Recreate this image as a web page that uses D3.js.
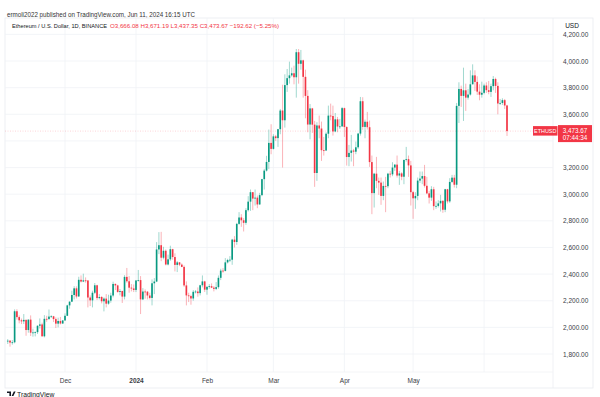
<!DOCTYPE html>
<html><head><meta charset="utf-8">
<script src="https://cdn.jsdelivr.net/npm/d3@7"></script>
<style>
html,body{margin:0;padding:0;background:#fff;}
svg{display:block;font-family:"Liberation Sans","DejaVu Sans",sans-serif;}
</style></head>
<body>
<svg id="c" width="600" height="397"></svg>
<script>
// ---- Data: daily OHLC (ETH/USD, Binance), one small array per month ----
const nov2023Start = "2023-11-06";
const nov2023 = [
 [1894,1912,1875,1900],[1900,1905,1855,1886],[1886,1905,1870,1888],[1888,2135,1880,2121],
 [2121,2136,2058,2077],[2077,2090,2030,2053],[2053,2066,2025,2045],[2045,2100,2025,2056],
 [2056,2060,1937,1980],[1980,2060,1960,2058],[2058,2090,1935,1960],[1960,1990,1930,1962],
 [1962,1970,1932,1964],[1964,2015,1950,2012],[2012,2067,1991,2022],[2022,2035,1930,1933],
 [1933,2092,1925,2064],[2064,2087,2042,2063],[2063,2134,2055,2081],[2081,2091,2072,2083],
 [2083,2086,2040,2062],[2062,2075,1995,2028],[2028,2073,2000,2048],[2048,2078,2022,2029],
 [2029,2055,2025,2052]
];
const dec2023Start = "2023-12-01";
const dec2023 = [
 [2052,2105,2049,2087],[2087,2170,2085,2165],[2165,2195,2140,2193],[2193,2275,2190,2243],
 [2243,2309,2210,2293],[2293,2308,2217,2232],[2232,2380,2230,2357],[2357,2390,2337,2344],
 [2344,2403,2340,2353],[2353,2375,2335,2352],[2352,2355,2150,2224],[2224,2240,2160,2203],
 [2203,2275,2150,2260],[2260,2333,2250,2316],[2316,2320,2205,2220],[2220,2250,2210,2228],
 [2228,2235,2180,2196],[2196,2225,2120,2216],[2216,2250,2150,2178],[2178,2245,2170,2201],
 [2201,2260,2185,2239],[2239,2343,2225,2326],[2326,2330,2280,2315],[2315,2320,2260,2266],
 [2266,2288,2240,2273],[2273,2275,2183,2231],[2231,2392,2210,2379],[2379,2446,2335,2346],
 [2346,2385,2260,2298],[2298,2325,2270,2292],[2292,2322,2265,2281]
];
const jan2024Start = "2024-01-01";
const jan2024 = [
 [2281,2355,2265,2352],[2352,2431,2343,2355],[2355,2385,2100,2210],[2210,2295,2205,2269],
 [2269,2285,2215,2268],[2268,2272,2210,2239],[2239,2260,2210,2221],[2221,2360,2165,2331],
 [2331,2370,2250,2344],[2344,2640,2340,2585],[2585,2715,2550,2617],[2617,2717,2497,2523],
 [2523,2605,2511,2575],[2575,2585,2465,2472],[2472,2546,2465,2511],[2511,2613,2500,2587],
 [2587,2590,2508,2528],[2528,2556,2420,2469],[2469,2498,2415,2488],[2488,2490,2460,2471],
 [2471,2480,2452,2454],[2454,2465,2304,2315],[2315,2345,2165,2240],[2240,2260,2190,2235],
 [2235,2245,2170,2217],[2217,2280,2200,2267],[2267,2280,2255,2269],[2269,2300,2230,2257],
 [2257,2320,2240,2316],[2316,2390,2300,2345],[2345,2350,2266,2283]
];
const feb2024Start = "2024-02-01";
const feb2024 = [
 [2283,2310,2245,2304],[2304,2325,2290,2309],[2309,2330,2295,2298],[2298,2310,2270,2289],
 [2289,2340,2280,2302],[2302,2390,2290,2372],[2372,2440,2355,2426],[2426,2445,2410,2424],
 [2424,2520,2420,2488],[2488,2515,2480,2506],[2506,2535,2490,2508],[2508,2665,2470,2659],
 [2659,2685,2600,2641],[2641,2785,2620,2777],[2777,2865,2770,2825],[2825,2850,2755,2804],
 [2804,2820,2720,2785],[2785,2895,2770,2880],[2880,2985,2870,2944],[2944,3035,2875,3015],
 [3015,3015,2880,2967],[2967,3035,2915,2974],[2974,2990,2895,2923],[2923,3010,2920,2993],
 [2993,3115,2985,3113],[3113,3190,3035,3177],[3177,3288,3170,3242],[3242,3485,3188,3385],
 [3385,3525,3300,3340]
];
const mar2024Start = "2024-03-01";
const mar2024 = [
 [3340,3450,3335,3434],[3434,3445,3400,3421],[3421,3490,3355,3488],[3488,3640,3450,3628],
 [3628,3822,3200,3555],[3555,3900,3500,3819],[3819,3940,3768,3871],[3871,3995,3830,3892],
 [3892,3950,3882,3908],[3908,3965,3825,3878],[3878,4090,3725,4066],[4066,4090,3830,3979],
 [3979,4083,3935,4005],[4005,4010,3725,3881],[3881,3935,3570,3738],[3738,3781,3465,3523],
 [3523,3677,3412,3644],[3644,3648,3460,3522],[3522,3550,3055,3159],[3159,3540,3100,3516],
 [3516,3590,3420,3493],[3493,3545,3250,3330],[3330,3430,3290,3328],[3328,3465,3325,3454],
 [3454,3665,3420,3590],[3590,3680,3555,3587],[3587,3665,3440,3471],[3471,3610,3465,3562],
 [3562,3580,3465,3508],[3508,3565,3490,3509],[3509,3655,3505,3646]
];
const apr2024Start = "2024-04-01";
const apr2024 = [
 [3646,3650,3430,3504],[3504,3510,3215,3279],[3279,3370,3210,3310],[3310,3445,3245,3328],
 [3328,3340,3210,3319],[3319,3395,3300,3352],[3352,3460,3340,3455],[3455,3730,3440,3698],
 [3698,3728,3483,3505],[3505,3560,3420,3544],[3544,3618,3485,3503],[3503,3553,3205,3241],
 [3241,3290,2850,3008],[3008,3160,2900,3154],[3154,3280,3045,3100],[3100,3125,2995,3087],
 [3087,3125,2920,2987],[2987,3095,2955,3062],[3062,3130,2865,3060],[3060,3160,3045,3154],
 [3154,3175,3125,3149],[3149,3240,3135,3200],[3200,3225,3175,3222],[3222,3290,3125,3140],
 [3140,3175,3070,3156],[3156,3165,3105,3131],[3131,3260,3075,3257],[3257,3355,3245,3263],
 [3263,3290,3130,3216],[3216,3250,2915,3015]
];
const may2024Start = "2024-05-01";
const may2024 = [
 [3015,3025,2815,2969],[2969,3015,2890,2987],[2987,3125,2955,3102],[3102,3170,3085,3117],
 [3117,3170,3075,3136],[3136,3220,3050,3063],[3063,3130,3000,3006],[3006,3025,2930,2974],
 [2974,3060,2950,3037],[3037,3055,2880,2910],[2910,2945,2890,2912],[2912,2955,2900,2931],
 [2931,2995,2870,2950],[2950,2955,2860,2883],[2883,3040,2865,3037],[3037,3040,2930,2946],
 [2946,3120,2935,3092],[3092,3145,3085,3124],[3124,3145,3050,3071],[3071,3685,3045,3663],
 [3663,3840,3535,3790],[3790,3815,3655,3738],[3738,3950,3550,3780],[3780,3830,3625,3725],
 [3725,3790,3710,3748],[3748,3930,3740,3825],[3825,3975,3825,3892],[3892,3930,3775,3843],
 [3843,3885,3745,3770],[3770,3825,3705,3747],[3747,3845,3725,3761]
];
const jun2024Start = "2024-06-01";
const jun2024 = [
 [3761,3830,3750,3816],[3816,3840,3760,3781],[3781,3850,3750,3768],[3768,3830,3730,3811],
 [3811,3887,3780,3865],[3865,3875,3760,3813],[3813,3840,3600,3681],[3681,3715,3670,3685],
 [3685,3720,3670,3706],[3706,3715,3640,3666],[3666.08,3671.19,3437.35,3473.67]
];

const gridTicks = [1800,2000,2200,2400,2600,2800,3000,3200,3400,3600,3800,4000,4200];
// 3,400.00 sits under the last-price box in the reference, so it is not labelled
const yTickLabels = [1800,2000,2200,2400,2600,2800,3000,3200,3600,3800,4000,4200];
const monthTicks = ["2023-12-01","2024-01-01","2024-02-01","2024-03-01","2024-04-01","2024-05-01","2024-06-01"];
const monthLabels = ["Dec","2024","Feb","Mar","Apr","May",""];

const headerText = "ermoli2022 published on TradingView.com, Jun 11, 2024 16:15 UTC";
const symbolText = "Ethereum / U.S. Dollar, 1D, BINANCE";
const ohlcText = "O3,666.08 H3,671.19 L3,437.35 C3,473.67 \u2212192.62 (\u22125.25%)";
const lastPrice = 3473.67;
const countdown = "07:44:34";

// ---- Build candle table ----
const months = [[nov2023Start,nov2023],[dec2023Start,dec2023],[jan2024Start,jan2024],[feb2024Start,feb2024],
  [mar2024Start,mar2024],[apr2024Start,apr2024],[may2024Start,may2024],[jun2024Start,jun2024]];
const parse = s => { const [Y,M,D] = s.split("-").map(Number); return new Date(Date.UTC(Y,M-1,D)); };
const candles = [];
months.forEach(([start, rows]) => {
  const d0 = parse(start);
  rows.forEach((r,i) => candles.push({date:new Date(d0.getTime()+i*864e5), o:r[0], h:r[1], l:r[2], c:r[3]}));
});

const UP = "#089981", DOWN = "#f23645";
const svg = d3.select("#c");
const plot = {l:5, r:553, t:18, b:372};

const x = d3.scaleUtc().domain([parse("2023-12-01"), parse("2024-06-11")]).range([65,507]);
const y = d3.scaleLinear().domain([1800,4000]).range([354,61]);
const step = x(parse("2024-01-02")) - x(parse("2024-01-01"));
const bw = step*0.72;

// header
svg.append("text").attr("x",7).attr("y",16.5).attr("font-size",6.4).attr("fill","#333")
  .attr("textLength",188).attr("lengthAdjust","spacingAndGlyphs").text(headerText);

// frame
svg.append("rect").attr("x",plot.l).attr("y",plot.t).attr("width",593-plot.l).attr("height",388-plot.t)
  .attr("fill","none").attr("stroke","#e9ebef").attr("stroke-width",0.8);
svg.append("line").attr("x1",plot.r).attr("x2",plot.r).attr("y1",plot.t).attr("y2",388)
  .attr("stroke","#eceef2").attr("stroke-width",0.8);
svg.append("line").attr("x1",plot.l).attr("x2",plot.r).attr("y1",plot.b).attr("y2",plot.b)
  .attr("stroke","#f1f2f5").attr("stroke-width",0.8);

// grid
svg.append("defs").append("clipPath").attr("id","pc").append("rect")
  .attr("x",plot.l).attr("y",plot.t).attr("width",plot.r-plot.l).attr("height",plot.b-plot.t);
const grid = svg.append("g").attr("clip-path","url(#pc)");
grid.selectAll(".hg").data(gridTicks).join("line")
  .attr("x1",plot.l).attr("x2",plot.r).attr("y1",d=>y(d)).attr("y2",d=>y(d))
  .attr("stroke","#f0f2f6").attr("stroke-width",0.8);
grid.selectAll(".vg").data(monthTicks).join("line")
  .attr("x1",d=>x(parse(d))).attr("x2",d=>x(parse(d))).attr("y1",plot.t).attr("y2",plot.b)
  .attr("stroke","#f0f2f6").attr("stroke-width",0.8);

// symbol line
svg.append("text").attr("x",12).attr("y",27.5).attr("font-size",6.1).attr("fill","#131722")
  .attr("textLength",95).attr("lengthAdjust","spacingAndGlyphs").text(symbolText);
svg.append("text").attr("x",110).attr("y",27.5).attr("font-size",6.1).attr("fill",DOWN)
  .attr("textLength",169).attr("lengthAdjust","spacingAndGlyphs").text(ohlcText);

// last price dotted line
grid.append("line").attr("x1",plot.l).attr("x2",plot.r).attr("y1",y(lastPrice)).attr("y2",y(lastPrice))
  .attr("stroke",DOWN).attr("stroke-opacity",0.35).attr("stroke-width",0.6).attr("stroke-dasharray","1,1.5");

// candles
const cg = svg.append("g").attr("clip-path","url(#pc)");
cg.selectAll(".w").data(candles).join("line")
  .attr("x1",d=>x(d.date)).attr("x2",d=>x(d.date)).attr("y1",d=>y(d.h)).attr("y2",d=>y(d.l))
  .attr("stroke",d=>d.c>=d.o?UP:DOWN).attr("stroke-width",0.7).attr("stroke-opacity",0.55);
cg.selectAll(".b").data(candles).join("rect")
  .attr("x",d=>x(d.date)-bw/2).attr("width",bw)
  .attr("y",d=>y(Math.max(d.o,d.c))).attr("height",d=>Math.max(0.8,Math.abs(y(d.o)-y(d.c))))
  .attr("fill",d=>d.c>=d.o?UP:DOWN);

// y axis
svg.append("defs").append("clipPath").attr("id","ac").append("rect")
  .attr("x",plot.r).attr("y",31.5).attr("width",45).attr("height",360);
const ya = svg.append("g").attr("clip-path","url(#ac)").append("g").attr("transform",`translate(${plot.r},0)`)
  .call(d3.axisRight(y).tickValues(yTickLabels).tickFormat(d3.format(",.2f")).tickSize(0).tickPadding(10));
ya.select(".domain").remove();
ya.selectAll("text").attr("font-size",6.5).attr("fill","#3a3d45").attr("font-family","Liberation Sans, sans-serif");
svg.append("text").attr("x",572).attr("y",27.5).attr("text-anchor","middle").attr("font-size",6.5)
  .attr("fill","#131722").text("USD");

// x axis
const xa = svg.append("g").attr("transform",`translate(0,${plot.b})`)
  .call(d3.axisBottom(x).tickValues(monthTicks.map(parse)).tickFormat((d,i)=>monthLabels[i]).tickSize(0).tickPadding(6));
xa.select(".domain").remove();
xa.selectAll("text").attr("font-size",6.5).attr("fill","#3a3d45").attr("font-family","Liberation Sans, sans-serif")
  .attr("font-weight",(d,i)=>monthLabels[i]==="2024"?"bold":"normal");

// last price labels
const ly = y(lastPrice);
svg.append("rect").attr("x",533).attr("y",ly-5).attr("width",24.5).attr("height",9.5).attr("fill",DOWN);
svg.append("text").attr("x",545.2).attr("y",ly+2).attr("text-anchor","middle").attr("font-size",5.4)
  .attr("fill","#fff").text("ETHUSD");
svg.append("rect").attr("x",558).attr("y",ly-6).attr("width",34).attr("height",17).attr("fill",DOWN);
svg.append("text").attr("x",575).attr("y",ly+1.5).attr("text-anchor","middle").attr("font-size",6.3)
  .attr("fill","#fff").text(d3.format(",.2f")(lastPrice));
svg.append("text").attr("x",575).attr("y",ly+8.8).attr("text-anchor","middle").attr("font-size",6.3)
  .attr("fill","#fff").text(countdown);

// footer logo
const lg = svg.append("g").attr("transform","translate(7,391.5)");
lg.append("path").attr("d","M0,0 h4 v4.5 h-1.6 v-3 h-2.4 z M4.6,4.5 l2.2,-4.5 h1.8 l-2.2,4.5 z").attr("fill","#131722");
svg.append("text").attr("x",17).attr("y",397).attr("font-size",6.8).attr("fill","#131722").text("TradingView");
</script>
</body></html>
